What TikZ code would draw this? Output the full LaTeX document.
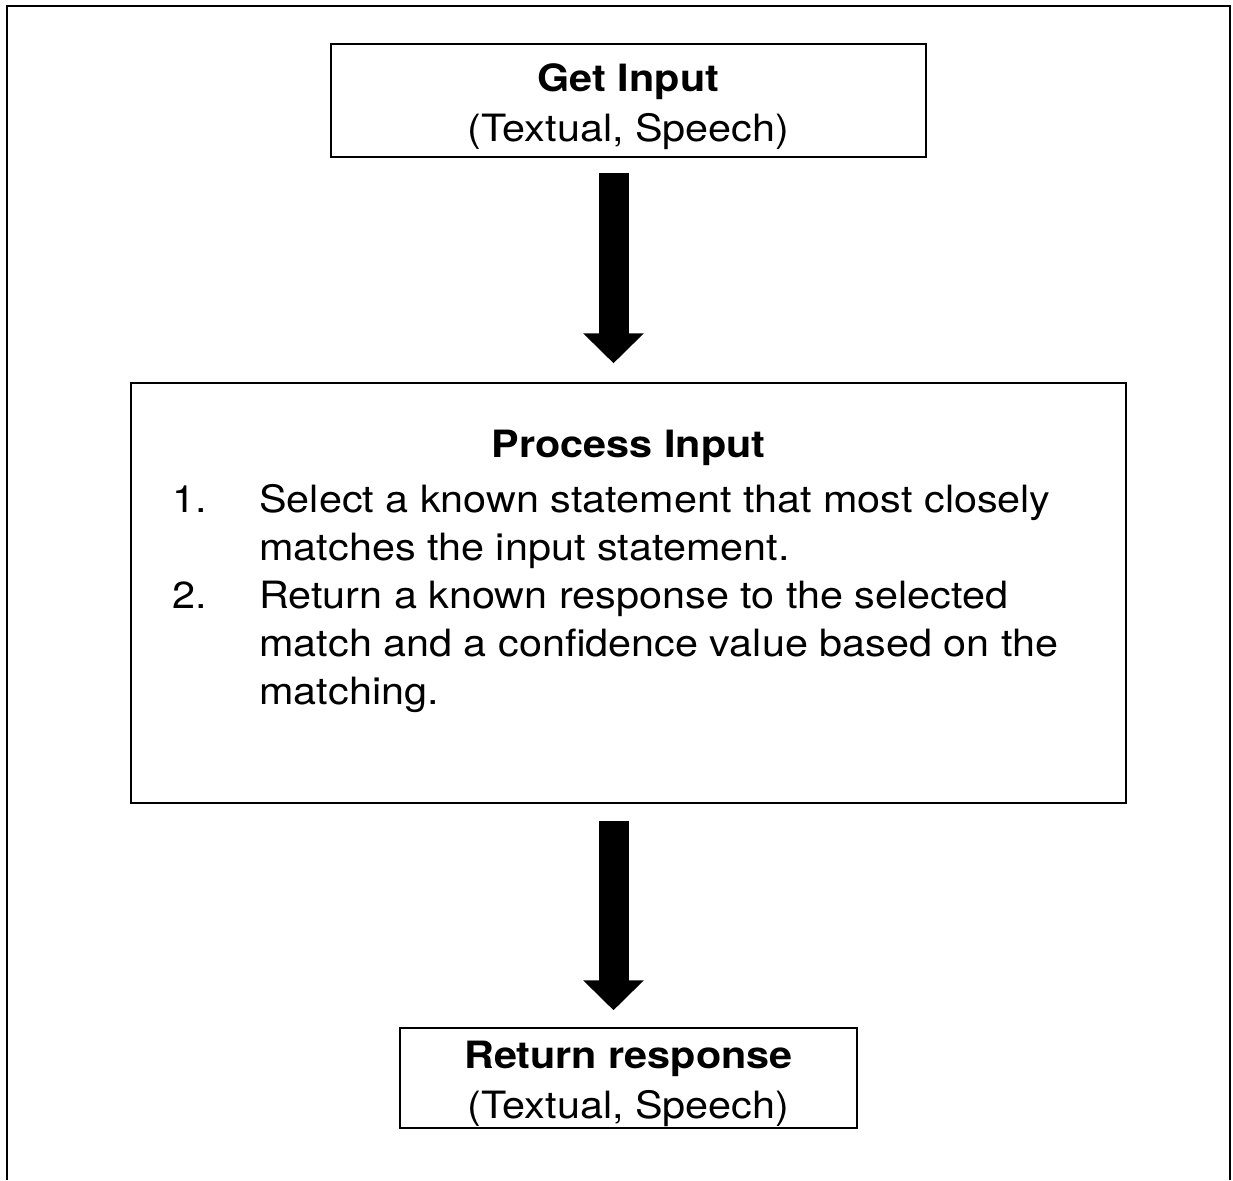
\documentclass[tikz,border=0pt]{standalone}
\usepackage{fontspec}
\setmainfont{TeX Gyre Heros}[FakeStretch=1.1]
\usetikzlibrary{arrows.meta}
\usetikzlibrary{positioning}
\tikzset{stepbox/.style={draw,
                        line width=0.75pt,
                        inner sep=0pt
                        },
        boxtext/.style={align=center,
                        inner sep=0pt,
                        font=\fontsize{18.8}{25}\selectfont
        },
        flowarrow/.style={line width=15pt,
                        -{Triangle[width=29.5pt,length=15pt]}
        },
}

\begin{document}
\begin{tikzpicture}
    [x=0.5pt,y=-0.5pt]

    \useasboundingbox (0,0) rectangle (1233,1180);

    % FRAME
    \draw[line width=1pt] (7,1180) -- (7,6) -- (1230,6) -- (1230,1180);

    % BOXES
    \node[stepbox, minimum width=297.5pt, minimum height=56.5pt] (getInput) at (628.5,100.5) {};
    \node[boxtext, anchor=base] (getInputText) at (628.5,141) {\textbf{Get Input}\\(Textual, Speech)};

    \node[stepbox, minimum width=497.5pt, minimum height=210pt] (process) at (628.5,593) {};
    \node[boxtext, anchor=base] (processTitle) at (628.5,457) {\textbf{Process Input}};
    \node[boxtext, anchor=base west, align=left, font=\fontsize{18.8}{24}\selectfont] (processSteps) at (172,512) {%
        \begin{tabular}[t]{@{}p{43.5pt}@{}l@{}}
        1. & Select a known statement that most closely \\
           & matches the input statement. \\
        2. & Return a known response to the selected \\
           & match and a confidence value based on the \\
           & matching.
        \end{tabular}};

    \node[stepbox, minimum width=228.5pt, minimum height=50pt] (returnResponse) at (628.5,1078) {};
    \node[boxtext, anchor=base] (returnResponseText) at (628.5,1118) {\textbf{Return response}\\(Textual, Speech)};

    % ARROWS
    \draw[flowarrow] ([xshift=-7.5pt,yshift=-7.5pt]getInput.south) -- ([xshift=-7.5pt,yshift=9.5pt]process.north);
    \draw[flowarrow] ([xshift=-7.5pt,yshift=-8.5pt]process.south) -- ([xshift=-7.5pt,yshift=8.5pt]returnResponse.north);

\end{tikzpicture}
\end{document}
